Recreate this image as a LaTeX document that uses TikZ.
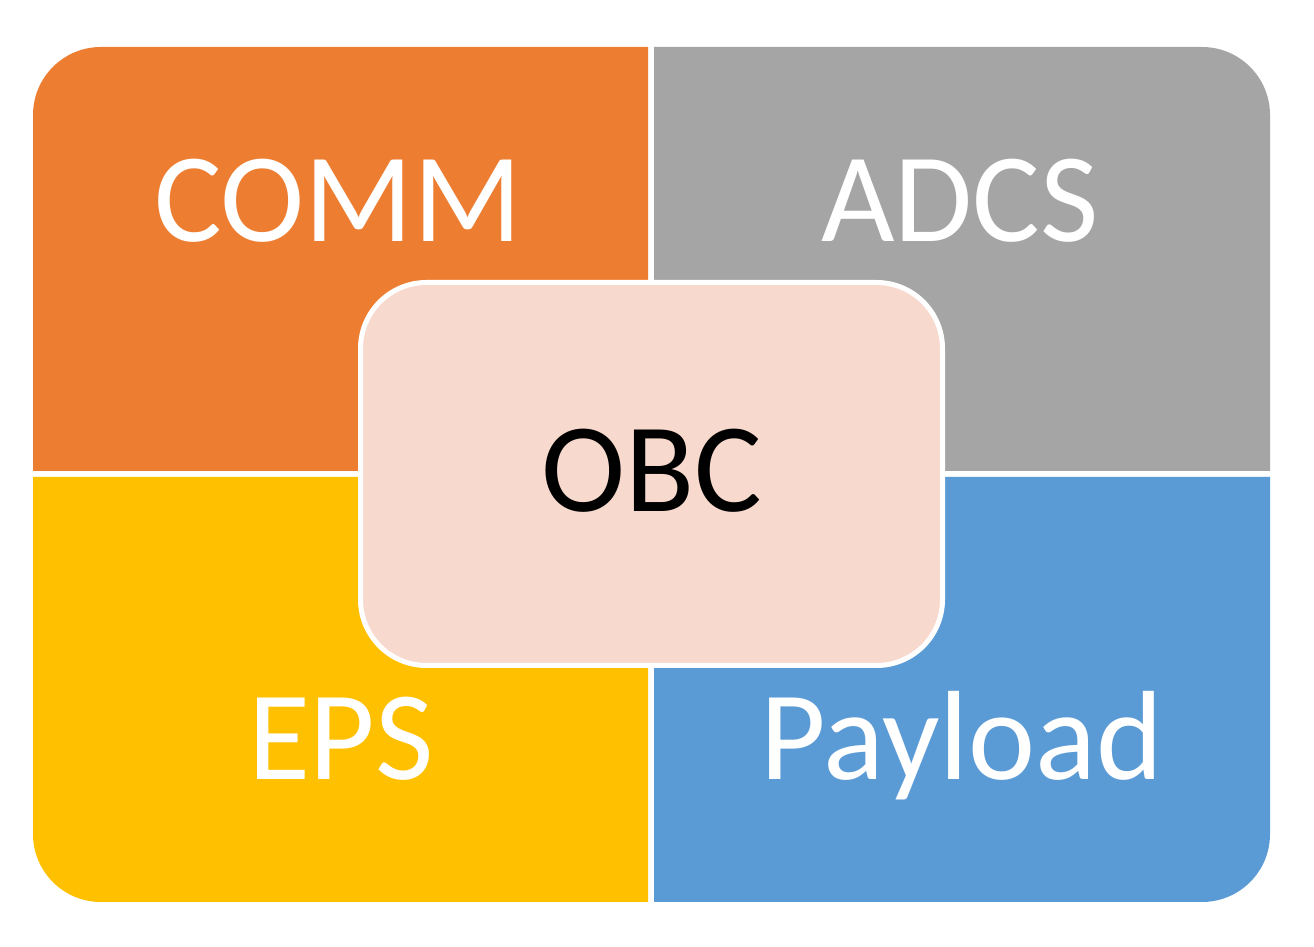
\documentclass[tikz,border=0pt]{standalone}
\usepackage{fontspec}
\setmainfont{Carlito}
\definecolor{commc}{HTML}{ED7D31}
\definecolor{adcsc}{HTML}{A5A5A5}
\definecolor{epsc}{HTML}{FFC000}
\definecolor{payc}{HTML}{5B9BD5}
\definecolor{obcc}{HTML}{F8D9CE}
\begin{document}
\begin{tikzpicture}[x=1pt,y=1pt,
  lbl/.style={anchor=base,inner sep=0pt,font=\fontsize{127}{127}\selectfont}]
\useasboundingbox (0,0) rectangle (1314,947);
\fill[white] (0,0) rectangle (1314,947);
\fill[commc] (33,476) -- (33,832) arc[start angle=180,end angle=90,radius=68] -- (648,900) -- (648,476) -- cycle;
\fill[adcsc] (654,476) -- (654,900) -- (1202,900) arc[start angle=90,end angle=0,radius=68] -- (1270,476) -- cycle;
\fill[epsc] (33,470) -- (33,113) arc[start angle=180,end angle=270,radius=68] -- (648,45) -- (648,470) -- cycle;
\fill[payc] (654,470) -- (654,45) -- (1202,45) arc[start angle=270,end angle=360,radius=68] -- (1270,470) -- cycle;
\node[lbl,text=white] (comm) at (338,705) {COMM};
\node[lbl,text=white] (adcs) at (960,705) {ADCS};
\node[lbl,text=white] (eps) at (341,167) {EPS};
\node[lbl,text=white] (pay) at (962,167) {Payload};
\draw[white,line width=5pt,fill=obcc,rounded corners=66pt] (360.5,281.5) rectangle (942.5,664.5);
\node[lbl,text=black] (obc) at (652,435) {OBC};
\end{tikzpicture}
\end{document}
